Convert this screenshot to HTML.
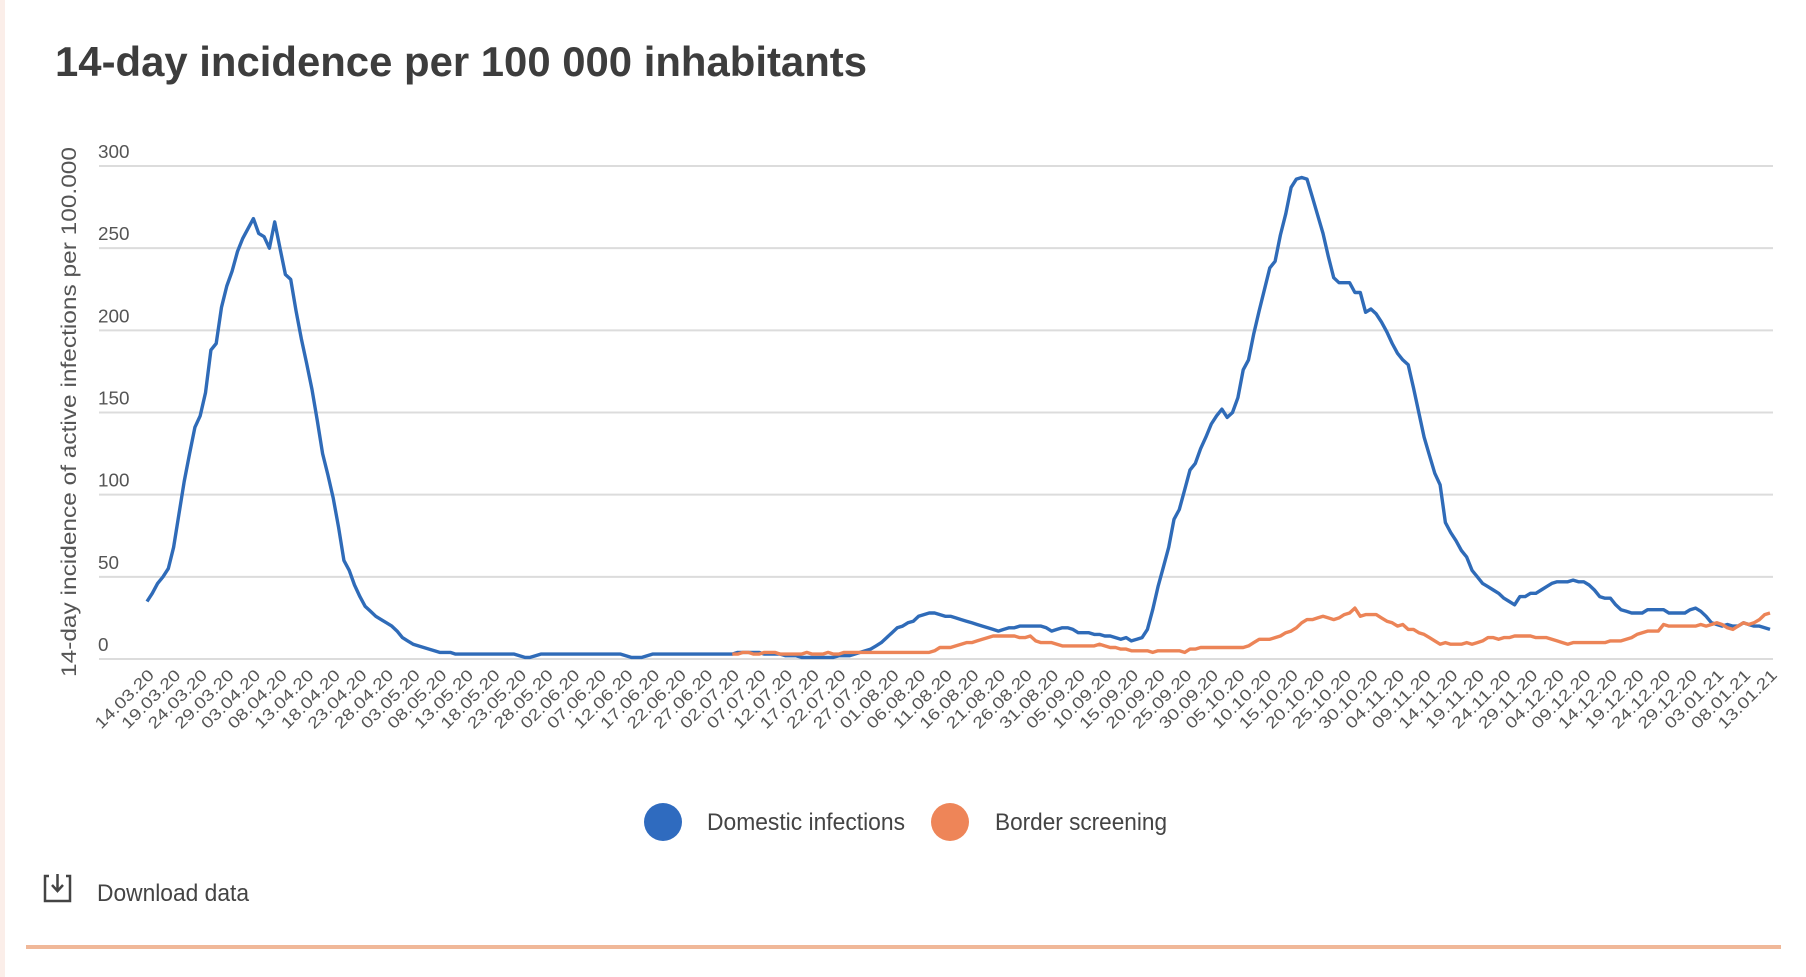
<!DOCTYPE html>
<html><head><meta charset="utf-8"><style>
html,body{margin:0;padding:0;background:#fff;width:1806px;height:977px;overflow:hidden}
svg{display:block;font-family:"Liberation Sans",sans-serif}
</style></head><body>
<svg id="chart" width="1806" height="977" viewBox="0 0 1806 977" xmlns="http://www.w3.org/2000/svg">
<rect x="0" y="0" width="5" height="977" fill="#fbeee9"/>
<text x="55" y="76" font-size="42" font-weight="bold" fill="#3d3d3d" textLength="812" lengthAdjust="spacingAndGlyphs">14-day incidence per 100 000 inhabitants</text>
<text transform="translate(76,412) rotate(-90)" text-anchor="middle" font-size="21" fill="#555" textLength="530" lengthAdjust="spacingAndGlyphs">14-day incidence of active infections per 100.000</text>
<g id="grid"></g><g id="yticks"></g><g id="xticks"></g><g id="series"></g>
<g>
<g><ellipse cx="663" cy="822" rx="19" ry="19" fill="#2f6bbf"/><text x="707" y="830" font-size="24" fill="#444" textLength="198" lengthAdjust="spacingAndGlyphs">Domestic infections</text></g>
<g><ellipse cx="950" cy="822" rx="19" ry="19" fill="#ee8558"/><text x="995" y="830" font-size="24" fill="#444" textLength="172" lengthAdjust="spacingAndGlyphs">Border screening</text></g>
</g>
<g>
<path d="M49 876 h-4 v25 h25 v-25 h-4" fill="none" stroke="#444" stroke-width="2.5"/>
<path d="M57.5 874 v16 M52 885 l5.5 6 l5.5 -6" fill="none" stroke="#444" stroke-width="2.5"/>
<text x="97" y="901" font-size="24" fill="#444" textLength="152" lengthAdjust="spacingAndGlyphs">Download data</text>
</g>
<rect x="26" y="945" width="1755" height="4" fill="#f0b899"/>
</svg>
<script>
const yTicks=[0,50,100,150,200,250,300];
const xLabels=["14.03.20","19.03.20","24.03.20","29.03.20","03.04.20","08.04.20","13.04.20","18.04.20","23.04.20","28.04.20","03.05.20","08.05.20","13.05.20","18.05.20","23.05.20","28.05.20","02.06.20","07.06.20","12.06.20","17.06.20","22.06.20","27.06.20","02.07.20","07.07.20","12.07.20","17.07.20","22.07.20","27.07.20","01.08.20","06.08.20","11.08.20","16.08.20","21.08.20","26.08.20","31.08.20","05.09.20","10.09.20","15.09.20","20.09.20","25.09.20","30.09.20","05.10.20","10.10.20","15.10.20","20.10.20","25.10.20","30.10.20","04.11.20","09.11.20","14.11.20","19.11.20","24.11.20","29.11.20","04.12.20","09.12.20","14.12.20","19.12.20","24.12.20","29.12.20","03.01.21","08.01.21","13.01.21"];
const labelEvery=5;
const domestic=[35,40,46,50,55,68,88,108,125,141,
148,162,188,192,214,227,236,248,256,262,
268,259,257,250,266,250,234,231,212,195,
180,164,145,125,112,98,80,60,54,45,
38,32,29,26,24,22,20,17,13,11,
9,8,7,6,5,4,4,4,3,3,
3,3,3,3,3,3,3,3,3,3,
2,1,1,2,3,3,3,3,3,3,
3,3,3,3,3,3,3,3,3,3,
2,1,1,1,2,3,3,3,3,3,
3,3,3,3,3,3,3,3,3,3,
3,4,4,4,4,4,3,3,3,3,
2,2,2,1,1,1,1,1,1,1,
2,2,2,3,4,5,6,8,10,13,
16,19,20,22,23,26,27,28,28,27,
26,26,25,24,23,22,21,20,19,18,
17,18,19,19,20,20,20,20,20,19,
17,18,19,19,18,16,16,16,15,15,
14,14,13,12,13,11,12,13,18,30,
44,56,68,85,91,103,115,119,128,135,
143,148,152,147,150,159,176,182,198,212,
225,238,242,258,271,287,292,293,292,281,
270,259,245,232,229,229,229,223,223,211,
213,210,205,199,192,186,182,179,165,150,
135,124,113,106,83,77,72,66,62,54,
50,46,44,42,40,37,35,33,38,38,
40,40,42,44,46,47,47,47,48,47,
47,45,42,38,37,37,33,30,29,28,
28,28,30,30,30,30,28,28,28,28,
30,31,29,26,22,21,20,21,20,20,
22,21,20,20,19,18];
const borderStart=110;
const border=[3,3,4,4,3,3,4,4,4,3,
3,3,3,3,4,3,3,3,4,3,
3,4,4,4,4,4,4,4,4,4,
4,4,4,4,4,4,4,4,5,7,
7,7,8,9,10,10,11,12,13,14,
14,14,14,14,13,13,14,11,10,10,
10,9,8,8,8,8,8,8,8,9,
8,7,7,6,6,5,5,5,5,4,
5,5,5,5,5,4,6,6,7,7,
7,7,7,7,7,7,7,8,10,12,
12,12,13,14,16,17,19,22,24,24,
25,26,25,24,25,27,28,31,26,27,
27,27,25,23,22,20,21,18,18,16,
15,13,11,9,10,9,9,9,10,9,
10,11,13,13,12,13,13,14,14,14,
14,13,13,13,12,11,10,9,10,10,
10,10,10,10,10,11,11,11,12,13,
15,16,17,17,17,21,20,20,20,20,
20,20,21,20,21,22,21,19,18,20,
22,21,22,24,27,28];

const NS="http://www.w3.org/2000/svg";
const X0=147,X1=1770,Y0=659,Y1=166,GL=99,GR=1773;
const nDays=domestic.length;
function xs(i){return X0+(X1-X0)*i/(nDays-1);}
function ys(v){return Y0-(Y0-Y1)*v/300;}
function mk(tag,attrs,parent){const e=document.createElementNS(NS,tag);for(const k in attrs)e.setAttribute(k,attrs[k]);parent.appendChild(e);return e;}
const grid=document.getElementById('grid'),yt=document.getElementById('yticks'),xt=document.getElementById('xticks'),ser=document.getElementById('series');
yTicks.forEach(v=>{
  const l=mk('line',{x1:GL,x2:GR,y1:ys(v),y2:ys(v),stroke:'#dcdcdc','stroke-width':2},grid);
  
  
  const t=mk('text',{x:98,y:ys(v)-8,'font-size':18,fill:'#555',textLength:String(v).length*10.5,lengthAdjust:'spacingAndGlyphs'},yt);
  t.textContent=v;
  
  
});
xLabels.forEach((s,i)=>{
  const x=xs(i*labelEvery)+8,y=676;
  const t=mk('text',{x:x,y:y,'font-size':16,fill:'#555','text-anchor':'end',transform:'rotate(-45 '+x+' '+y+')',textLength:76,lengthAdjust:'spacingAndGlyphs'},xt);
  t.textContent=s;
  
  
});
function path(vals,start,color,name){
  const d=vals.map((v,i)=>(i?'L':'M')+xs(start+i).toFixed(1)+' '+ys(v).toFixed(1)).join(' ');
  const p=mk('path',{d:d,fill:'none',stroke:color,'stroke-width':3.4,'stroke-linejoin':'round'},ser);
  
  
}
path(domestic,0,'#2f6bb8','domestic-infections-line');
path(border,borderStart,'#ec8457','border-screening-line');
</script>
</body></html>
